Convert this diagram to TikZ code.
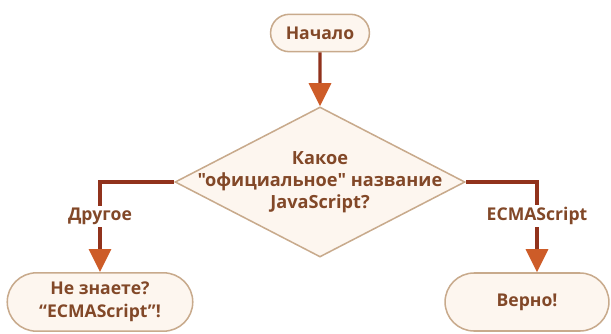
\documentclass[tikz,border=0pt]{standalone}
\usepackage{fontspec}
\setmainfont{Open Sans}[Ligatures=TeXOff]
\usetikzlibrary{shapes.geometric, shapes.misc, arrows.meta, positioning}
\definecolor{edgetan}{RGB}{200, 170, 140}
\definecolor{palecream}{RGB}{253, 246, 239}
\definecolor{labelbrown}{RGB}{130, 72, 40}
\definecolor{flowred}{RGB}{145, 50, 28}
\definecolor{tiporange}{RGB}{205, 92, 40}

\begin{document}
\begin{tikzpicture}[
    x=0.03cm, y=-0.03cm,
    terminal/.style={rounded rectangle, draw=edgetan, fill=palecream, line width=1.3pt, align=center, font=\fontsize{15}{20}\selectfont\bfseries, text=labelbrown},
    decision/.style={diamond, draw=edgetan, fill=palecream, line width=1.3pt, aspect=1.93, inner sep=-1cm, minimum width=8.7cm, minimum height=4.5cm, align=center, font=\fontsize{15.5}{19}\selectfont\bfseries, text=labelbrown},
    flow/.style={line width=2.6pt, flowred, -{Triangle[width=0.66cm, length=0.69cm, color=tiporange]}},
    answer/.style={fill=white, inner sep=2pt, font=\fontsize{15}{18}\selectfont\bfseries, text=labelbrown}
]
    \useasboundingbox (0,0) rectangle (611,334);

    \node[terminal, minimum width=3.2cm, minimum height=1.12cm] (start) at (320,33) {Начало};
    \node[decision] (quest) at (320,182) {Какое\\"официальное" название\\JavaScript?};
    \node[terminal, minimum width=5.8cm, minimum height=1.75cm] (unknown) at (100,302) {Не знаете?\\“ECMAScript”!};
    \node[terminal, minimum width=5.15cm, minimum height=1.74cm] (correct) at (527,302) {Верно!};

    \draw[flow] (start) -- (quest);
    \draw[flow] (quest.west) -| node[answer, pos=0.69] {Другое} (unknown.north);
    \draw[flow] (quest.east) -| node[answer, pos=0.69] {ECMAScript} ([xshift=0.3cm]correct.north);
\end{tikzpicture}
\end{document}
